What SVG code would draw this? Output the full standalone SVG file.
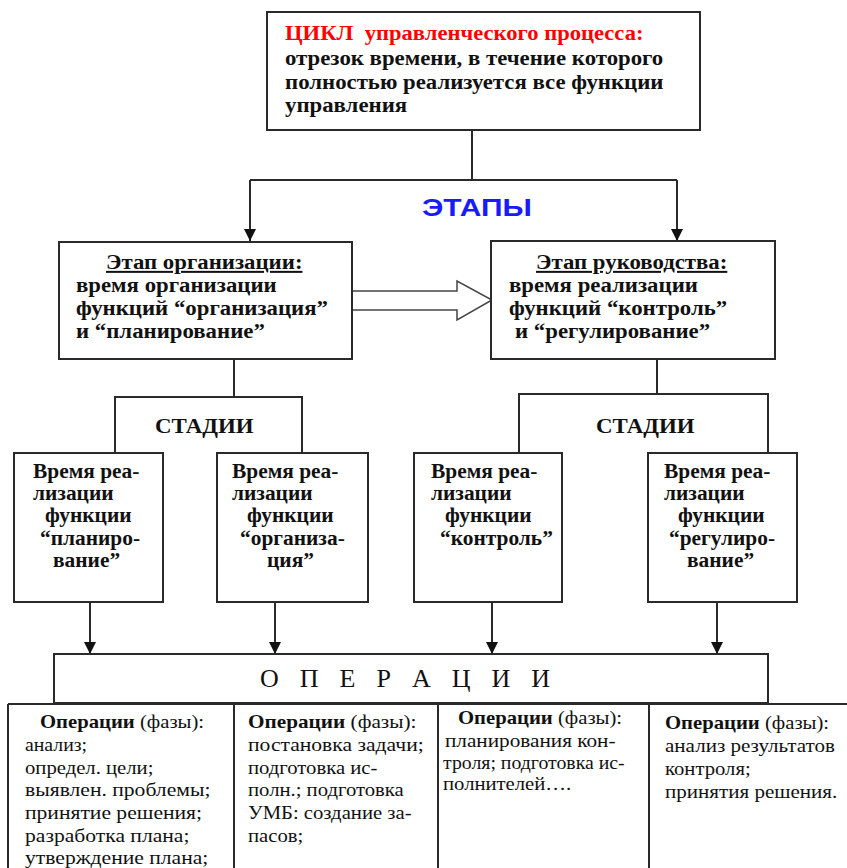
<svg xmlns="http://www.w3.org/2000/svg" width="847" height="868" viewBox="0 0 847 868">
<defs>
<style>
.box{fill:#fff;stroke:#2a2a2a;stroke-width:2}
.ln{fill:none;stroke:#2a2a2a;stroke-width:2}
.b{font-weight:bold;font-size:20px;fill:#111}
.st{font-weight:bold;font-size:22px;fill:#111}
.op{font-size:26px;fill:#111}
.s{font-size:18px;fill:#111}
.sb{font-weight:bold}
.red{fill:#ff0000}
.blue{font-weight:bold;font-size:24px;fill:#1a1aff}
</style>
<marker id="ah" viewBox="0 0 10 10" refX="10" refY="5" markerWidth="12" markerHeight="12" markerUnits="userSpaceOnUse" orient="auto">
<path d="M0,0 L10,5 L0,10 Z" fill="#111"/>
</marker>
</defs>
<rect width="847" height="868" fill="#fff"/>

<g id="connectors">
<path class="ln" d="M472,130 V180"/>
<path class="ln" d="M250,180 H677"/>
<path class="ln" d="M250,180 V241" marker-end="url(#ah)"/>
<path class="ln" d="M677,180 V241" marker-end="url(#ah)"/>
<polygon points="352,291 457,291 457,281 492,300 457,320 457,310 352,310" fill="#fff" stroke="#444" stroke-width="1.5"/>
<path class="ln" d="M234,359 V397 M115,453 V397 H302 V453"/>
<path class="ln" d="M657,359 V394 M519,453 V394 H768 V453"/>
<path class="ln" d="M90,602 V654" marker-end="url(#ah)"/>
<path class="ln" d="M275,602 V654" marker-end="url(#ah)"/>
<path class="ln" d="M492,602 V654" marker-end="url(#ah)"/>
<path class="ln" d="M717,602 V654" marker-end="url(#ah)"/>
</g>

<g font-family="'Liberation Serif', serif">
<g id="cycle">
<rect class="box" x="267" y="12" width="433" height="118"/>
<text class="b red" font-family="'Liberation Serif', serif" transform="translate(285,40) scale(1.13,1)" xml:space="preserve">ЦИКЛ  управленческого процесса:</text>
<text class="b" font-family="'Liberation Serif', serif" transform="translate(285,65) scale(1.14,1)">отрезок времени, в течение которого</text>
<text class="b" font-family="'Liberation Serif', serif" transform="translate(285,89) scale(1.14,1)">полностью реализуется все функции</text>
<text class="b" font-family="'Liberation Serif', serif" transform="translate(285,112) scale(1.14,1)">управления</text>
</g>

<g id="etapy-label">
<text class="blue" font-family="'Liberation Sans', sans-serif" transform="translate(422,216) scale(1.25,1)">ЭТАПЫ</text>
</g>

<g id="stage-org">
<rect class="box" x="59" y="242" width="293" height="117"/>
<text class="b" font-family="'Liberation Serif', serif" transform="translate(106,269) scale(1.14,1)" text-decoration="underline">Этап организации:</text>
<text class="b" font-family="'Liberation Serif', serif" transform="translate(76,292) scale(1.14,1)">время организации</text>
<text class="b" font-family="'Liberation Serif', serif" transform="translate(76,315) scale(1.14,1)">функций “организация”</text>
<text class="b" font-family="'Liberation Serif', serif" transform="translate(76,338) scale(1.14,1)">и “планирование”</text>
</g>

<g id="stage-lead">
<rect class="box" x="491" y="241" width="284" height="118"/>
<text class="b" font-family="'Liberation Serif', serif" transform="translate(536,269) scale(1.14,1)" text-decoration="underline">Этап руководства:</text>
<text class="b" font-family="'Liberation Serif', serif" transform="translate(509,292) scale(1.14,1)">время реализации</text>
<text class="b" font-family="'Liberation Serif', serif" transform="translate(509,315) scale(1.14,1)">функций “контроль”</text>
<text class="b" font-family="'Liberation Serif', serif" transform="translate(515,338) scale(1.14,1)">и “регулирование”</text>
</g>

<g id="stadii-left">
<text class="st" font-family="'Liberation Serif', serif" transform="translate(155,433) scale(1.04,1)">СТАДИИ</text>
</g>
<g id="stadii-right">
<text class="st" font-family="'Liberation Serif', serif" transform="translate(596,433) scale(1.04,1)">СТАДИИ</text>
</g>

<g id="st-plan">
<rect class="box" x="14" y="453" width="149" height="149"/>
<text class="b" font-family="'Liberation Serif', serif" transform="translate(33,478) scale(1.07,1)">Время реа-</text>
<text class="b" font-family="'Liberation Serif', serif" transform="translate(33,500) scale(1.07,1)">лизации</text>
<text class="b" font-family="'Liberation Serif', serif" transform="translate(45,522) scale(1.07,1)">функции</text>
<text class="b" font-family="'Liberation Serif', serif" transform="translate(40,545) scale(1.07,1)">“планиро-</text>
<text class="b" font-family="'Liberation Serif', serif" transform="translate(53,567) scale(1.07,1)">вание”</text>
</g>

<g id="st-org">
<rect class="box" x="217" y="453" width="151" height="149"/>
<text class="b" font-family="'Liberation Serif', serif" transform="translate(232,478) scale(1.07,1)">Время реа-</text>
<text class="b" font-family="'Liberation Serif', serif" transform="translate(232,500) scale(1.07,1)">лизации</text>
<text class="b" font-family="'Liberation Serif', serif" transform="translate(247,522) scale(1.07,1)">функции</text>
<text class="b" font-family="'Liberation Serif', serif" transform="translate(240,545) scale(1.07,1)">“организа-</text>
<text class="b" font-family="'Liberation Serif', serif" transform="translate(267,567) scale(1.07,1)">ция”</text>
</g>

<g id="st-ctrl">
<rect class="box" x="414" y="453" width="148" height="149"/>
<text class="b" font-family="'Liberation Serif', serif" transform="translate(431,478) scale(1.07,1)">Время реа-</text>
<text class="b" font-family="'Liberation Serif', serif" transform="translate(431,500) scale(1.07,1)">лизации</text>
<text class="b" font-family="'Liberation Serif', serif" transform="translate(445,522) scale(1.07,1)">функции</text>
<text class="b" font-family="'Liberation Serif', serif" transform="translate(440,545) scale(1.07,1)">“контроль”</text>
</g>

<g id="st-reg">
<rect class="box" x="648" y="453" width="149" height="149"/>
<text class="b" font-family="'Liberation Serif', serif" transform="translate(664,478) scale(1.07,1)">Время реа-</text>
<text class="b" font-family="'Liberation Serif', serif" transform="translate(664,500) scale(1.07,1)">лизации</text>
<text class="b" font-family="'Liberation Serif', serif" transform="translate(678,522) scale(1.07,1)">функции</text>
<text class="b" font-family="'Liberation Serif', serif" transform="translate(669,545) scale(1.07,1)">“регулиро-</text>
<text class="b" font-family="'Liberation Serif', serif" transform="translate(687,567) scale(1.07,1)">вание”</text>
</g>

<g id="operations">
<rect class="box" x="54" y="654" width="714" height="49"/>
<text class="op" font-family="'Liberation Serif', serif" x="260" y="687" textLength="290" lengthAdjust="spacing">О П Е Р А Ц И И</text>
</g>

<g id="ops-table">
<path class="ln" d="M8,704 H847 M8,704 V868 M234,704 V868 M438,704 V868 M649,704 V868"/>
</g>

<g id="ops-1">
<text class="s" font-family="'Liberation Serif', serif" transform="translate(40,728) scale(1.15,1)"><tspan class="sb">Операции</tspan> (фазы):</text>
<text class="s" font-family="'Liberation Serif', serif" transform="translate(25,751) scale(1.1,1)">анализ;</text>
<text class="s" font-family="'Liberation Serif', serif" transform="translate(25,774) scale(1.15,1)">определ. цели;</text>
<text class="s" font-family="'Liberation Serif', serif" transform="translate(25,796) scale(1.2,1)">выявлен. проблемы;</text>
<text class="s" font-family="'Liberation Serif', serif" transform="translate(25,819) scale(1.2,1)">принятие решения;</text>
<text class="s" font-family="'Liberation Serif', serif" transform="translate(25,842) scale(1.2,1)">разработка плана;</text>
<text class="s" font-family="'Liberation Serif', serif" transform="translate(25,864) scale(1.2,1)">утверждение плана;</text>
</g>

<g id="ops-2">
<text class="s" font-family="'Liberation Serif', serif" transform="translate(248,728) scale(1.18,1)"><tspan class="sb">Операции</tspan> (фазы):</text>
<text class="s" font-family="'Liberation Serif', serif" transform="translate(248,751) scale(1.2,1)">постановка задачи;</text>
<text class="s" font-family="'Liberation Serif', serif" transform="translate(248,774) scale(1.15,1)">подготовка ис-</text>
<text class="s" font-family="'Liberation Serif', serif" transform="translate(248,796) scale(1.15,1)">полн.; подготовка</text>
<text class="s" font-family="'Liberation Serif', serif" transform="translate(248,819) scale(1.15,1)">УМБ: создание за-</text>
<text class="s" font-family="'Liberation Serif', serif" transform="translate(248,842) scale(1.15,1)">пасов;</text>
</g>

<g id="ops-3">
<text class="s" font-family="'Liberation Serif', serif" transform="translate(458,724) scale(1.15,1)"><tspan class="sb">Операции</tspan> (фазы):</text>
<text class="s" font-family="'Liberation Serif', serif" transform="translate(445,747) scale(1.18,1)">планирования кон-</text>
<text class="s" font-family="'Liberation Serif', serif" transform="translate(443,769) scale(1.1,1)">троля; подготовка ис-</text>
<text class="s" font-family="'Liberation Serif', serif" transform="translate(443,790) scale(1.15,1)">полнителей….</text>
</g>

<g id="ops-4">
<text class="s" font-family="'Liberation Serif', serif" transform="translate(665,729) scale(1.15,1)"><tspan class="sb">Операции</tspan> (фазы):</text>
<text class="s" font-family="'Liberation Serif', serif" transform="translate(665,752) scale(1.17,1)">анализ результатов</text>
<text class="s" font-family="'Liberation Serif', serif" transform="translate(665,775) scale(1.15,1)">контроля;</text>
<text class="s" font-family="'Liberation Serif', serif" transform="translate(665,798) scale(1.17,1)">принятия решения.</text>
</g>
</g>
</svg>
